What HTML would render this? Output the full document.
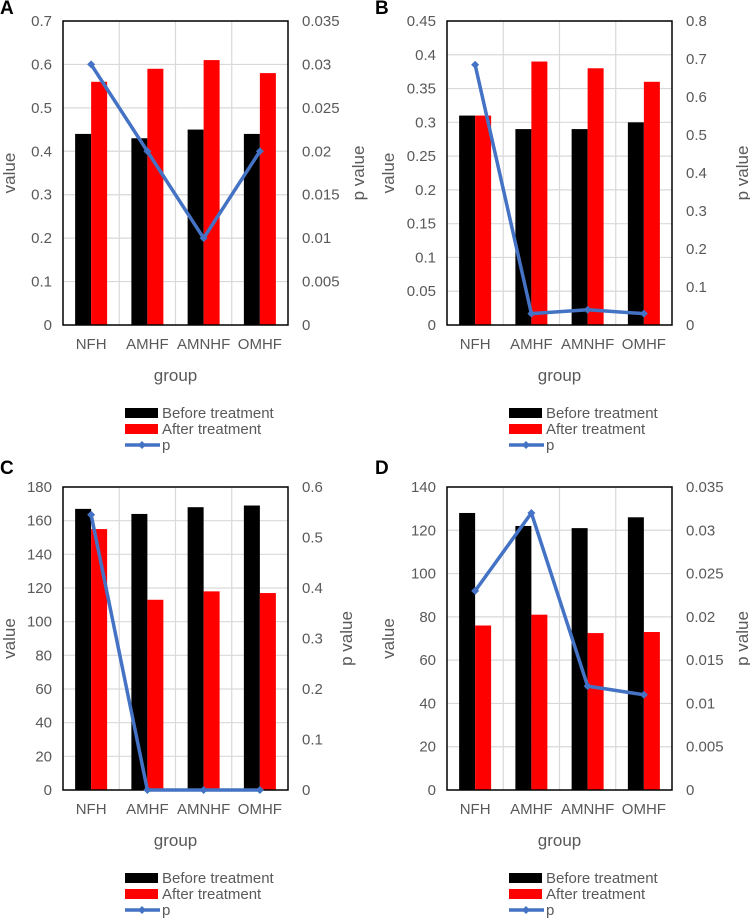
<!DOCTYPE html>
<html><head><meta charset="utf-8"><style>
body{margin:0;background:#fff;}
svg{display:block;font-family:"Liberation Sans",Arial,sans-serif;}
</style></head><body>
<svg id="fig" width="750" height="919" viewBox="0 0 750 919"></svg>
<script>
const categories=["NFH","AMHF","AMNHF","OMHF"];
const beforeA=[0.44,0.43,0.45,0.44];
const afterA=[0.56,0.59,0.61,0.58];
const pA=[0.03,0.02,0.01,0.02];
const beforeB=[0.31,0.29,0.29,0.30];
const afterB=[0.31,0.39,0.38,0.36];
const pB=[0.685,0.03,0.04,0.03];
const beforeC=[167,164,168,169];
const afterC=[155,113,118,117];
const pC=[0.545,0,0,0];
const beforeD=[128,122,121,126];
const afterD=[76,81,72.5,73];
const pD=[0.023,0.032,0.012,0.011];
const leftTicksA=["0","0.1","0.2","0.3","0.4","0.5","0.6","0.7"];
const rightTicksA=["0","0.005","0.01","0.015","0.02","0.025","0.03","0.035"];
const leftTicksB=["0","0.05","0.1","0.15","0.2","0.25","0.3","0.35","0.4","0.45"];
const rightTicksB=["0","0.1","0.2","0.3","0.4","0.5","0.6","0.7","0.8"];
const leftTicksC=["0","20","40","60","80","100","120","140","160","180"];
const rightTicksC=["0","0.1","0.2","0.3","0.4","0.5","0.6"];
const leftTicksD=["0","20","40","60","80","100","120","140"];
const rightTicksD=["0","0.005","0.01","0.015","0.02","0.025","0.03","0.035"];

const NS="http://www.w3.org/2000/svg";
const svg=document.getElementById('fig');
function mk(tag,attrs,parent,text){const e=document.createElementNS(NS,tag);for(const k in attrs)e.setAttribute(k,attrs[k]);if(text!==undefined)e.textContent=text;(parent||svg).appendChild(e);return e;}

function panel(id,lab,box,before,after,p,lt,rt,leg){
  const g=mk('g',{});
  
  
  const {L,R,T,B}=box;
  const lmax=parseFloat(lt[lt.length-1]), rmax=parseFloat(rt[rt.length-1]);
  const yL=v=>B-(v/lmax)*(B-T);
  const yR=v=>B-(v/rmax)*(B-T);
  const cw=(R-L)/categories.length;
  const xc=i=>L+cw*(i+0.5);
  lt.forEach((t,i)=>{const y=yL(parseFloat(t));
    if(i>0){const gl=mk('line',{x1:L,x2:R,y1:y,y2:y,stroke:'#d9d9d9','stroke-width':1.2},g);
    }
    const tx=mk('text',{x:L-11,y:y+5,'text-anchor':'end','font-size':15,fill:'#595959'},g,t);
    
  });
  rt.forEach(t=>{const y=yR(parseFloat(t));
    const tx=mk('text',{x:R+14,y:y+5,'font-size':15,fill:'#595959'},g,t);
    
  });
  for(let i=1;i<categories.length;i++){const x=L+cw*i;
    const vl=mk('line',{x1:x,x2:x,y1:T,y2:B,stroke:'#d9d9d9','stroke-width':1.2},g);
    }
  const bw=16;
  categories.forEach((c,i)=>{
    const b1=mk('rect',{x:xc(i)-bw,y:yL(before[i]),width:bw,height:B-yL(before[i]),fill:'#000'},g);
    
    const b2=mk('rect',{x:xc(i),y:yL(after[i]),width:bw,height:B-yL(after[i]),fill:'#ff0000'},g);
    
    const cl=mk('text',{x:xc(i),y:B+24,'text-anchor':'middle','font-size':15,fill:'#595959'},g,c);
    
  });
  const fr=mk('rect',{x:L,y:T,width:R-L,height:B-T,fill:'none',stroke:'#000','stroke-width':1.5},g);
  
  const pts=p.map((v,i)=>xc(i)+','+yR(v)).join(' ');
  const ln=mk('polyline',{points:pts,fill:'none',stroke:'#4472c4','stroke-width':3.5,'stroke-linejoin':'round'},g);
  
  p.forEach((v,i)=>{const x=xc(i),y=yR(v);
    const m=mk('polygon',{points:`${x},${y-4} ${x+4},${y} ${x},${y+4} ${x-4},${y}`,fill:'#4472c4'},g);
    });
  const t1=mk('text',{transform:`translate(${box.vx},${(T+B)/2}) rotate(-90)`,'text-anchor':'middle','font-size':17,fill:'#595959'},g,'value');
  
  const t2=mk('text',{transform:`translate(${box.px},${(T+B)/2}) rotate(-90)`,'text-anchor':'middle','font-size':17,fill:'#595959'},g,'p value');
  
  const t3=mk('text',{x:(L+R)/2,y:box.gy,'text-anchor':'middle','font-size':17,fill:'#595959'},g,'group');
  
  const pl=mk('text',{x:box.lx,y:box.ly,'font-size':19,'font-weight':'bold',fill:'#000'},g,lab);
  
  const lg=mk('g',{},g);
  const sx=leg.x, ly=leg.y;
  const r1=mk('rect',{x:sx,y:ly-5,width:33,height:10,fill:'#000'},lg);
  
  const e1=mk('text',{x:sx+37,y:ly+5,'font-size':15,fill:'#595959'},lg,'Before treatment');
  
  const r2=mk('rect',{x:sx,y:ly+11,width:33,height:10,fill:'#ff0000'},lg);
  
  const e2=mk('text',{x:sx+37,y:ly+21,'font-size':15,fill:'#595959'},lg,'After treatment');
  
  const l3=mk('line',{x1:sx,x2:sx+35,y1:ly+32,y2:ly+32,stroke:'#4472c4','stroke-width':3.5},lg);
  
  const mx=sx+17;
  const d=mk('polygon',{points:`${mx},${ly+28} ${mx+4},${ly+32} ${mx},${ly+36} ${mx-4},${ly+32}`,fill:'#4472c4'},lg);
  
  const e3=mk('text',{x:sx+37,y:ly+37,'font-size':15,fill:'#595959'},lg,'p');
  
}
panel('a','A',{L:63,R:288,T:21,B:325,vx:15,px:364,gy:381,lx:0,ly:14},beforeA,afterA,pA,leftTicksA,rightTicksA,{x:125,y:413});
panel('b','B',{L:447,R:672,T:21,B:325,vx:394,px:748,gy:381,lx:375,ly:14},beforeB,afterB,pB,leftTicksB,rightTicksB,{x:509,y:413});
panel('c','C',{L:63,R:288,T:487,B:790,vx:15,px:352,gy:846,lx:0,ly:474},beforeC,afterC,pC,leftTicksC,rightTicksC,{x:125,y:878});
panel('d','D',{L:447,R:672,T:487,B:790,vx:394,px:748,gy:846,lx:375,ly:474},beforeD,afterD,pD,leftTicksD,rightTicksD,{x:509,y:878});
</script>
</body></html>
